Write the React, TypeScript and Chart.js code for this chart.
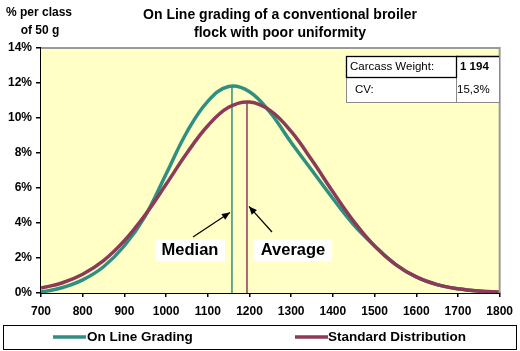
import React, { useEffect, useRef } from "react";
import { Chart, registerables } from "chart.js";

Chart.register(...registerables);

const weights = [700, 750, 800, 850, 900, 950, 1000, 1050, 1100, 1150, 1200, 1250, 1300, 1350, 1400, 1450, 1500, 1550, 1600, 1650, 1700, 1750, 1800];
const onLineGrading = [0.05, 0.3, 0.75, 1.5, 2.7, 4.4, 6.8, 9.2, 10.95, 11.8, 11.5, 10.3, 8.6, 7.0, 5.4, 3.9, 2.7, 1.64, 0.92, 0.48, 0.24, 0.11, 0.05];
const standardDistribution = [0.28, 0.57, 1.07, 1.85, 2.99, 4.47, 6.21, 8.0, 9.56, 10.61, 10.91, 10.42, 9.23, 7.58, 5.78, 4.09, 2.68, 1.64, 0.92, 0.48, 0.24, 0.11, 0.05];
const medianWeight = 1158;
const medianPeak = 11.83;
const averageWeight = 1194;
const averagePeak = 10.91;
const yTicks = [0, 2, 4, 6, 8, 10, 12, 14];
const xTicks = [700, 800, 900, 1000, 1100, 1200, 1300, 1400, 1500, 1600, 1700, 1800];
const titleLines = ["On Line grading of a conventional broiler", "flock with poor uniformity"];
const yTitleLines = ["% per class", "of 50 g"];
const seriesNames = ["On Line Grading", "Standard Distribution"];
const tableRows = [["Carcass Weight:", "1 194"], ["CV:", "15,3%"]];

const TEAL = "#2f8f80";
const MAROON = "#8c3a57";
const FONT = "'Liberation Sans', Arial, sans-serif";

function arrow(ctx: CanvasRenderingContext2D, x1: number, y1: number, x2: number, y2: number) {
  ctx.save();
  ctx.strokeStyle = "#000";
  ctx.fillStyle = "#000";
  ctx.lineWidth = 1.2;
  ctx.beginPath();
  ctx.moveTo(x1, y1);
  ctx.lineTo(x2, y2);
  ctx.stroke();
  const a = Math.atan2(y2 - y1, x2 - x1);
  const L = 8, W = 3.5;
  ctx.beginPath();
  ctx.moveTo(x2, y2);
  ctx.lineTo(x2 - L * Math.cos(a) + W * Math.sin(a), y2 - L * Math.sin(a) - W * Math.cos(a));
  ctx.lineTo(x2 - L * Math.cos(a) - W * Math.sin(a), y2 - L * Math.sin(a) + W * Math.cos(a));
  ctx.closePath();
  ctx.fill();
  ctx.restore();
}

const decorPlugin = {
  id: "decor",
  beforeDatasetsDraw(chart: any) {
    const { ctx, chartArea } = chart;
    ctx.save();
    ctx.fillStyle = "#ffffc6";
    ctx.fillRect(chartArea.left, chartArea.top, chartArea.right - chartArea.left, chartArea.bottom - chartArea.top);
    ctx.restore();
  },
  afterDraw(chart: any) {
    const { ctx, chartArea } = chart;
    const xs = chart.scales.x;
    const ys = chart.scales.y;
    ctx.save();
    ctx.strokeStyle = "#9a9a9a";
    ctx.lineWidth = 2;
    ctx.beginPath();
    ctx.moveTo(chartArea.left, chartArea.top);
    ctx.lineTo(chartArea.right, chartArea.top);
    ctx.lineTo(chartArea.right, chartArea.bottom);
    ctx.stroke();

    ctx.fillStyle = "#000";
    ctx.textAlign = "center";
    ctx.textBaseline = "middle";
    ctx.font = `bold 14px ${FONT}`;
    ctx.fillText(titleLines[0], 280, 15);
    ctx.fillText(titleLines[1], 280, 33);

    ctx.font = `bold 12px ${FONT}`;
    ctx.fillText(yTitleLines[0], 39, 13);
    ctx.fillText(yTitleLines[1], 40, 31);

    const tx0 = 346, tx1 = 456, tx2 = 499, ty0 = 56, ty1 = 77, ty2 = 102;
    ctx.fillStyle = "#fff";
    ctx.fillRect(tx0, ty0, tx2 - tx0, ty2 - ty0);
    ctx.strokeStyle = "#8a8a8a";
    ctx.lineWidth = 1;
    ctx.strokeRect(tx0 + 0.5, ty0 + 0.5, tx2 - tx0, ty2 - ty0);
    ctx.beginPath();
    ctx.moveTo(tx1 + 0.5, ty0);
    ctx.lineTo(tx1 + 0.5, ty2);
    ctx.stroke();
    ctx.strokeStyle = "#000";
    ctx.lineWidth = 1.3;
    ctx.strokeRect(tx0 + 0.5, ty0 + 0.5, tx1 - tx0, ty1 - ty0);
    ctx.beginPath();
    ctx.moveTo(tx1, ty0 + 0.5);
    ctx.lineTo(tx2, ty0 + 0.5);
    ctx.stroke();
    ctx.fillStyle = "#000";
    ctx.textAlign = "left";
    ctx.font = `11.5px ${FONT}`;
    ctx.fillText(tableRows[0][0], 350, 66.5);
    ctx.fillText(tableRows[1][0], 355, 89.5);
    ctx.font = `bold 11.5px ${FONT}`;
    ctx.fillText(tableRows[0][1], 460, 66.5);
    ctx.font = `11.5px ${FONT}`;
    ctx.fillText(tableRows[1][1], 457, 89.5);

    ctx.font = `bold 16.5px ${FONT}`;
    ctx.fillStyle = "#fff";
    ctx.fillRect(156, 239, 69, 22);
    ctx.fillRect(254, 239, 78, 22);
    ctx.fillStyle = "#000";
    ctx.textAlign = "center";
    ctx.fillText("Median", 190, 250);
    ctx.fillText("Average", 293, 250);

    const mx = xs.getPixelForValue(medianWeight);
    const ax = xs.getPixelForValue(averageWeight);
    arrow(ctx, 193, 237, mx - 2, ys.getPixelForValue(4.6));
    arrow(ctx, 272, 232, ax + 2, ys.getPixelForValue(4.95));

    ctx.fillStyle = "#fff";
    ctx.fillRect(3, 325, 513, 24);
    ctx.strokeStyle = "#000";
    ctx.lineWidth = 1;
    ctx.strokeRect(3.5, 325.5, 513, 24);
    ctx.lineWidth = 3.5;
    ctx.strokeStyle = TEAL;
    ctx.beginPath();
    ctx.moveTo(53, 337);
    ctx.lineTo(86, 337);
    ctx.stroke();
    ctx.strokeStyle = MAROON;
    ctx.beginPath();
    ctx.moveTo(295, 337);
    ctx.lineTo(328, 337);
    ctx.stroke();
    ctx.fillStyle = "#000";
    ctx.textAlign = "left";
    ctx.font = `bold 13.5px ${FONT}`;
    ctx.fillText(seriesNames[0], 87, 337.5);
    ctx.fillText(seriesNames[1], 328, 337.5);
    ctx.restore();
  },
};

export default function App() {
  const ref = useRef<HTMLCanvasElement | null>(null);
  useEffect(() => {
    if (!ref.current) return;
    const chart = new Chart(ref.current, {
      type: "line",
      data: {
        datasets: [
          {
            label: seriesNames[1],
            data: weights.map((w, i) => ({ x: w, y: standardDistribution[i] })),
            borderColor: MAROON,
            borderWidth: 3.5,
            pointRadius: 0,
            tension: 0.4,
            order: 0,
          },
          {
            label: seriesNames[0],
            data: weights.map((w, i) => ({ x: w, y: onLineGrading[i] })),
            borderColor: TEAL,
            borderWidth: 3.5,
            pointRadius: 0,
            tension: 0.4,
            order: 1,
          },
          {
            label: "Median",
            data: [{ x: medianWeight, y: 0 }, { x: medianWeight, y: medianPeak }],
            borderColor: TEAL,
            borderWidth: 1.5,
            pointRadius: 0,
            order: 2,
          },
          {
            label: "Average",
            data: [{ x: averageWeight, y: 0 }, { x: averageWeight, y: averagePeak }],
            borderColor: MAROON,
            borderWidth: 1.5,
            pointRadius: 0,
            order: 2,
          },
        ],
      },
      options: {
        responsive: false,
        animation: false,
        devicePixelRatio: 1,
        layout: { padding: { top: 48, right: 19, left: 0, bottom: 0 } },
        plugins: { legend: { display: false }, title: { display: false }, tooltip: { enabled: false } },
        scales: {
          x: {
            type: "linear",
            min: 700,
            max: 1800,
            afterFit: (s: any) => { s.height = 58; },
            afterBuildTicks: (s: any) => { s.ticks = xTicks.map((v) => ({ value: v })); },
            grid: { drawOnChartArea: false, drawTicks: true, tickLength: 4, color: "#000", lineWidth: 1.5 },
            border: { display: true, color: "#000", width: 2 },
            ticks: { color: "#000", font: { family: FONT, size: 12, weight: "bold" }, padding: 7, maxRotation: 0, callback: (v: any) => String(v) },
          },
          y: {
            type: "linear",
            min: 0,
            max: 14,
            afterFit: (s: any) => { s.width = 41; },
            afterBuildTicks: (s: any) => { s.ticks = yTicks.map((v) => ({ value: v })); },
            grid: { drawOnChartArea: false, drawTicks: true, tickLength: 5, color: "#000", lineWidth: 1.5 },
            border: { display: true, color: "#000", width: 2 },
            ticks: { color: "#000", font: { family: FONT, size: 12, weight: "bold" }, padding: 4, callback: (v: any) => v + "%" },
          },
        },
      },
      plugins: [decorPlugin],
    } as any);
    return () => chart.destroy();
  }, []);
  return (
    <div style={{ position: "absolute", left: 0, top: 0, width: 520, height: 351, background: "#fff" }}>
      <canvas ref={ref} width={520} height={351} />
    </div>
  );
}
